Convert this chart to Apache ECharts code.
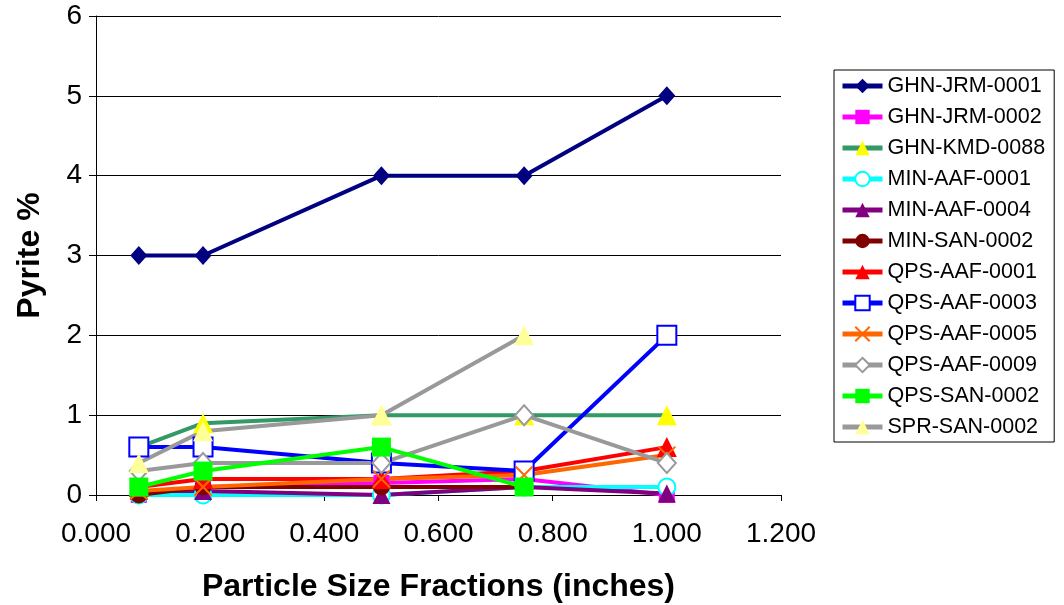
<!DOCTYPE html>
<html>
<head>
<meta charset="utf-8">
<script src="https://cdn.jsdelivr.net/npm/echarts@6/dist/echarts.min.js"></script>
<style>
html,body{margin:0;padding:0;background:#fff;}
#main{width:1064px;height:605px;}
</style>
</head>
<body>
<div id="main"></div>
<script>
// Particle size fractions (inches)
var xValues = [0.075, 0.1875, 0.5, 0.75, 1.0];
var xTicks = [0, 0.2, 0.4, 0.6, 0.8, 1.0, 1.2];
var yTicks = [0, 1, 2, 3, 4, 5, 6];

var GHN_JRM_0001 = [3, 3, 4, 4, 5];
var GHN_JRM_0002 = [0, 0.1, 0.15, 0.2, 0];
var GHN_KMD_0088 = [0.6, 0.9, 1, 1, 1];
var MIN_AAF_0001 = [0, 0, 0, 0.1, 0.1];
var MIN_AAF_0004 = [0.05, 0.05, 0, 0.1, 0.02];
var MIN_SAN_0002 = [0, 0.1, 0.1, 0.1, null];
var QPS_AAF_0001 = [0.1, 0.2, 0.2, 0.3, 0.6];
var QPS_AAF_0003 = [0.6, 0.6, 0.4, 0.3, 2];
var QPS_AAF_0005 = [0.05, 0.1, 0.2, 0.25, 0.5];
var QPS_AAF_0009 = [0.3, 0.4, 0.4, 1, 0.4];
var QPS_SAN_0002 = [0.1, 0.3, 0.6, 0.1, null];
var SPR_SAN_0002 = [0.4, 0.8, 1, 2, null];

var FONT = '"Liberation Sans", Arial, sans-serif';
var xMark = 'path://M0,0L10,10M10,0L0,10';

function pts(vals) {
  var out = [];
  for (var i = 0; i < xValues.length; i++) {
    if (vals[i] !== null && vals[i] !== undefined) out.push([xValues[i], vals[i]]);
  }
  return out;
}

function mk(name, vals, lineColor, symbol, size, fill, border, bw) {
  return {
    name: name,
    type: 'line',
    data: pts(vals),
    symbol: symbol,
    symbolSize: size,
    showAllSymbol: true,
    lineStyle: { color: lineColor, width: 4 },
    itemStyle: { color: fill, borderColor: border || fill, borderWidth: bw || 0 },
    emphasis: { disabled: true },
    animation: false
  };
}

var series = [
  mk('GHN-JRM-0001', GHN_JRM_0001, '#000080', 'diamond', [17, 19], '#000080'),
  mk('GHN-JRM-0002', GHN_JRM_0002, '#FF00FF', 'rect', 16, '#FF00FF'),
  mk('GHN-KMD-0088', GHN_KMD_0088, '#339966', 'triangle', 20, '#FFFF00'),
  mk('MIN-AAF-0001', MIN_AAF_0001, '#00FFFF', 'emptyCircle', 17, '#00FFFF', '#00FFFF', 2),
  mk('MIN-AAF-0004', MIN_AAF_0004, '#800080', 'triangle', 18, '#800080'),
  mk('MIN-SAN-0002', MIN_SAN_0002, '#800000', 'circle', 17, '#800000'),
  mk('QPS-AAF-0001', QPS_AAF_0001, '#FF0000', 'triangle', 20, '#FF0000'),
  mk('QPS-AAF-0003', QPS_AAF_0003, '#0000FF', 'emptyRect', 19, '#0000FF', '#0000FF', 2),
  mk('QPS-AAF-0005', QPS_AAF_0005, '#FF6600', xMark, 17, '#FF6600', '#FF6600', 2),
  mk('QPS-AAF-0009', QPS_AAF_0009, '#999999', 'emptyDiamond', [18, 20], '#999999', '#999999', 2),
  mk('QPS-SAN-0002', QPS_SAN_0002, '#00FF00', 'rect', 19, '#00FF00'),
  mk('SPR-SAN-0002', SPR_SAN_0002, '#999999', 'triangle', 20, '#FFFF99')
];

var chart = echarts.init(document.getElementById('main'), null, { renderer: 'canvas' });
chart.setOption({
  backgroundColor: '#ffffff',
  animation: false,
  textStyle: { fontFamily: FONT },
  grid: { left: 96, right: 283, top: 16, bottom: 110, containLabel: false, outerBoundsMode: 'none' },
  xAxis: {
    type: 'value',
    min: xTicks[0],
    max: xTicks[xTicks.length - 1],
    interval: 0.2,
    name: 'Particle Size Fractions (inches)',
    nameLocation: 'middle',
    nameGap: 76,
    nameTextStyle: { fontFamily: FONT, fontSize: 32, fontWeight: 'bold', color: '#000' },
    axisLine: { onZero: false, lineStyle: { color: '#000', width: 1 } },
    axisTick: { show: true, inside: false, length: 6, lineStyle: { color: '#000' } },
    axisLabel: { fontFamily: FONT, fontSize: 28, color: '#000', margin: 25,
      formatter: function (v) { return v.toFixed(3); } },
    splitLine: { show: false }
  },
  yAxis: {
    type: 'value',
    min: yTicks[0],
    max: yTicks[yTicks.length - 1],
    interval: 1,
    name: 'Pyrite %',
    nameLocation: 'middle',
    nameGap: 50,
    nameRotate: 90,
    nameTextStyle: { fontFamily: FONT, fontSize: 32, fontWeight: 'bold', color: '#000' },
    axisLine: { show: true, lineStyle: { color: '#000', width: 1 } },
    axisTick: { show: true, inside: false, length: 7, lineStyle: { color: '#000' } },
    axisLabel: { fontFamily: FONT, fontSize: 28, color: '#000', margin: 14 },
    splitLine: { show: true, lineStyle: { color: '#000', width: 1 } }
  },
  legend: {
    orient: 'vertical',
    left: 834,
    top: 70,
    padding: [5, 9, 4, 6],
    itemWidth: 40,
    itemHeight: 18,
    itemGap: 9,
    borderColor: '#000',
    borderWidth: 1,
    backgroundColor: '#fff',
    lineStyle: { width: 5 },
    textStyle: { fontFamily: FONT, fontSize: 21.5, color: '#000', lineHeight: 22, padding: [0, 0, 0, 0] },
    data: series.map(function (s) { return s.name; })
  },
  series: series
});
</script>
</body>
</html>
